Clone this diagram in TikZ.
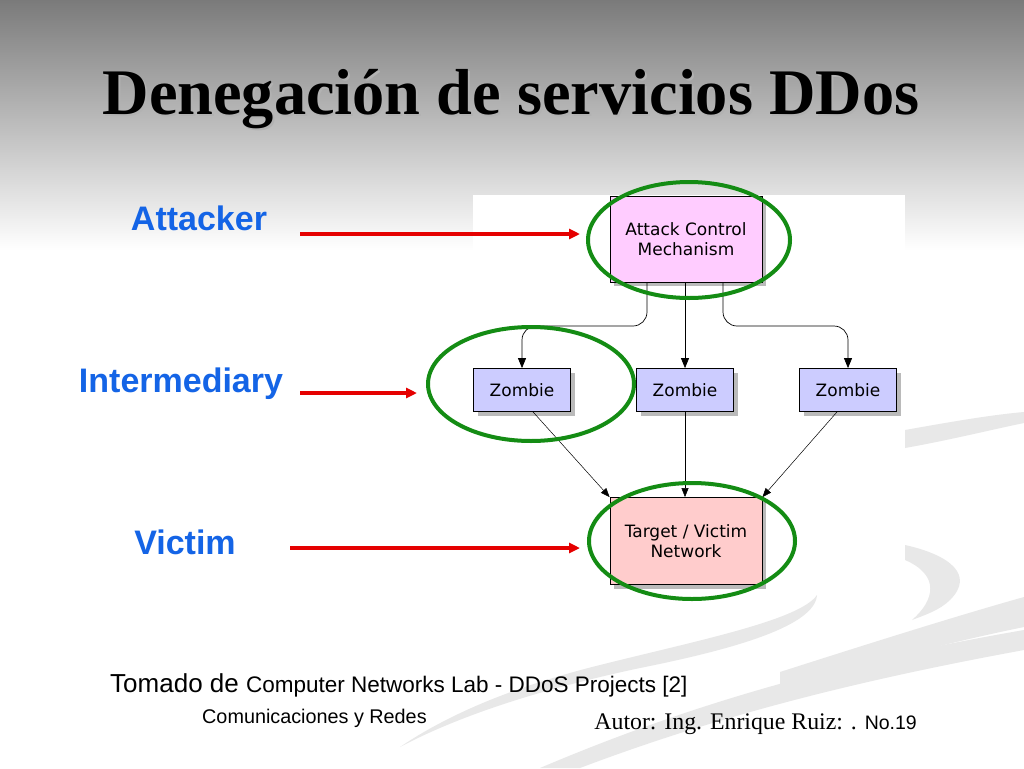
\documentclass[tikz,border=0pt]{standalone}
\usepackage{fontspec}
\setmainfont{Liberation Serif}
\newfontfamily\arial{Liberation Sans}
\newfontfamily\tahoma{DejaVu Sans}
\usetikzlibrary{arrows.meta,shadows}
\definecolor{lblblue}{RGB}{20,100,230}
\definecolor{ringgreen}{RGB}{20,140,20}
\definecolor{pinkbox}{RGB}{255,204,255}
\definecolor{lavbox}{RGB}{204,204,255}
\definecolor{rosebox}{RGB}{255,204,204}
\definecolor{swoosh}{RGB}{232,232,232}
\tikzset{
  diagbox/.style={draw=black, line width=0.8pt, font=\tahoma\fontsize{17}{20}\selectfont, align=center, inner sep=0pt,
     drop shadow={shadow xshift=4pt, shadow yshift=-4pt, opacity=0.45, fill=black!60}},
  flow/.style={draw=black, line width=0.7pt, -{Triangle[length=10pt,width=8pt]}, rounded corners=14pt},
  thinflow/.style={draw=black, line width=0.5pt, -{Triangle[length=9pt,width=7pt]}},
  ring/.style={draw=ringgreen, line width=4pt},
  redarrow/.style={draw=red!90!black, line width=3.5pt, -{Triangle[length=11pt,width=10pt]}},
  lbl/.style={font=\arial\bfseries\fontsize{34}{38}\selectfont, text=lblblue},
}
\begin{document}
\begin{tikzpicture}[x=1pt,y=-1pt]
\useasboundingbox (0,0) rectangle (1024,768);
% background
\fill[white] (0,0) rectangle (1024,768);
\shade[top color=black!52, bottom color=white] (0,0) rectangle (1024,250);
% diagram panel
\fill[white] (473,195) rectangle (905,590);
% swooshes
\fill[swoosh] (905,430) .. controls (950,422) and (990,415) .. (1024,412) -- (1024,423) .. controls (990,430) and (950,440) .. (905,448) -- cycle;
\fill[swoosh] (905,545) .. controls (950,555) and (975,575) .. (950,600) .. controls (940,610) and (925,615) .. (912,620) .. controls (935,600) and (940,575) .. (905,560) -- cycle;
\fill[swoosh] (780,672) .. controls (880,640) and (960,615) .. (1024,597) -- (1024,627) .. controls (960,640) and (880,660) .. (780,690) -- cycle;
\fill[swoosh] (817,595) .. controls (800,620) and (700,640) .. (600,665) .. controls (500,690) and (440,720) .. (400,747) .. controls (470,710) and (560,685) .. (640,668) .. controls (740,648) and (815,625) .. (817,595) -- cycle;
\fill[swoosh] (1024,630) .. controls (850,660) and (700,700) .. (540,768) -- (580,768) .. controls (720,715) and (860,680) .. (1024,650) -- cycle;
% title
\node[font=\bfseries\fontsize{65}{70}\selectfont, text=black!30, xscale=0.99] at (513,101) {Denegación de servicios DDos};
\node[font=\bfseries\fontsize{65}{70}\selectfont, xscale=0.99] (title) at (511,99) {Denegación de servicios DDos};
% boxes
\node[diagbox, fill=pinkbox, minimum width=152pt, minimum height=86pt] (acm) at (686,239) {Attack Control\\Mechanism};
\node[diagbox, fill=lavbox, minimum width=97pt, minimum height=43pt] (z1) at (522,390) {Zombie};
\node[diagbox, fill=lavbox, minimum width=97pt, minimum height=43pt] (z2) at (685,390) {Zombie};
\node[diagbox, fill=lavbox, minimum width=97pt, minimum height=43pt] (z3) at (848,390) {Zombie};
\node[diagbox, fill=rosebox, minimum width=152pt, minimum height=87pt] (tgt) at (686,541) {Target / Victim\\Network};
% connectors
\draw[flow] (acm.south -| 647,0) |- (560,326) -| (z1.north);
\draw[flow] (acm.south -| z2.north) -- (z2.north);
\draw[flow] (acm.south -| 723,0) |- (800,326) -| (z3.north);
\draw[thinflow] (z1.south -| 533,0) -- (tgt.north west);
\draw[thinflow] (z2.south) -- (tgt.north -| z2.south);
\draw[thinflow] (z3.south -| 837,0) -- (tgt.north east);
% rings
\draw[ring] (689,240) ellipse [x radius=101pt, y radius=58pt];
\draw[ring] (531,384) ellipse [x radius=103pt, y radius=57pt];
\draw[ring] (692,541) ellipse [x radius=103pt, y radius=58pt];
% labels
\node[lbl] (latt) at (199,218) {Attacker};
\node[lbl] (lint) at (181,384) {Intermediary};
\node[lbl] (lvic) at (185,542) {Victim};
\coordinate (a1s) at (300,234); \coordinate (a1e) at (580,234);
\coordinate (a2s) at (300,393); \coordinate (a2e) at (417,393);
\coordinate (a3s) at (290,548); \coordinate (a3e) at (580,548);
\draw[redarrow] (a1s) -- (a1e);
\draw[redarrow] (a2s) -- (a2e);
\draw[redarrow] (a3s) -- (a3e);
% footer
\node[anchor=base west, inner sep=0pt] (src) at (110,692) {\arial\fontsize{26}{30}\selectfont Tomado de \fontsize{22.5}{26}\selectfont Computer Networks Lab - DDoS Projects [2]};
\node[anchor=base west, inner sep=0pt] (course) at (202,723) {\arial\fontsize{19.8}{23}\selectfont Comunicaciones y Redes};
\node[anchor=base east, inner sep=0pt] (author) at (917,729) {\fontsize{23.8}{27}\selectfont Autor: Ing. Enrique Ruiz: . {\arial\fontsize{19.5}{23}\selectfont No.19}};
\end{tikzpicture}
\end{document}
